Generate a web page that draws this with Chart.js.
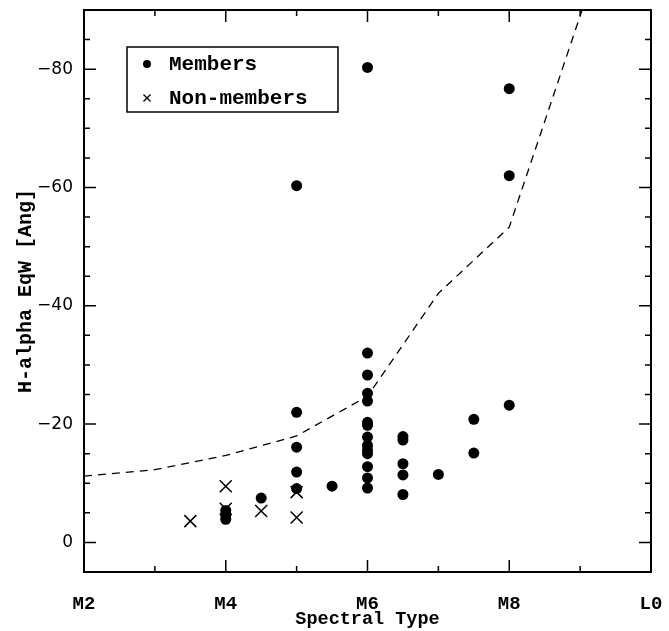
<!DOCTYPE html>
<html lang="en">
<head>
  <meta charset="UTF-8" />
  <title>H-alpha EqW vs Spectral Type</title>
  <style>
    html, body { margin: 0; padding: 0; background: #fff; }
  </style>
</head>
<body>
  <canvas id="myChart" width="669" height="631"></canvas>
  <script src="https://cdn.jsdelivr.net/npm/chart.js@4.4.1/dist/chart.umd.min.js"></script>
  <script>
    // spectral type: M2 = 2 ... L0 = 10
    const memberX = [4, 4, 4, 4.5, 5, 5, 5, 5, 5, 5.5,
      6, 6, 6, 6, 6, 6, 6, 6, 6, 6, 6, 6, 6, 6,
      6.5, 6.5, 6.5, 6.5, 6.5, 7, 7.5, 7.5, 8, 8, 8];
    const memberY = [-5.4, -4.6, -3.9, -7.5, -60.3, -22.0, -16.1, -11.9, -9.1, -9.5,
      -80.3, -32.0, -28.3, -25.2, -23.9, -20.3, -19.8, -17.8, -16.4, -15.6, -15.0, -12.8, -10.9, -9.2,
      -17.9, -17.3, -13.3, -11.4, -8.1, -11.5, -20.8, -15.1, -76.7, -62.0, -23.2];

    const nonX = [3.5, 4, 4, 4.5, 5, 5];
    const nonY = [-3.6, -9.5, -5.7, -5.3, -8.5, -4.2];

    const limitX = [2, 3, 4, 5, 6, 7, 8, 9, 10];
    const limitY = [-11.2, -12.3, -14.7, -18.0, -24.7, -42.1, -53.3, -89, -125];

    const xTicks = [2, 4, 6, 8, 10];
    const xTickLabels = ["M2", "M4", "M6", "M8", "L0"];
    const xMinor = [3, 5, 7, 9];
    const yTicks = [0, -20, -40, -60, -80];
    const yMinor = [-5, -10, -15, -25, -30, -35, -45, -50, -55, -65, -70, -75, -85];

    const pts = (xs, ys) => xs.map((x, i) => ({ x: x, y: ys[i] }));
    const serif = "'Liberation Mono', 'Courier New', monospace";
    const sans = "'DejaVu Sans', sans-serif";

    // box round the plot with inward ticks on all four sides
    const frame = {
      id: "frame",
      afterDraw(chart) {
        const ctx = chart.ctx;
        const a = chart.chartArea;
        const xs = chart.scales.x, ys = chart.scales.y;
        ctx.save();
        ctx.strokeStyle = "#000";
        ctx.lineWidth = 2;
        ctx.strokeRect(a.left, a.top, a.right - a.left, a.bottom - a.top);
        ctx.lineWidth = 1.5;
        ctx.beginPath();
        const xt = (vals, len) => vals.forEach(v => {
          const p = xs.getPixelForValue(v);
          ctx.moveTo(p, a.bottom); ctx.lineTo(p, a.bottom - len);
          ctx.moveTo(p, a.top); ctx.lineTo(p, a.top + len);
        });
        const yt = (vals, len) => vals.forEach(v => {
          const p = ys.getPixelForValue(v);
          ctx.moveTo(a.left, p); ctx.lineTo(a.left + len, p);
          ctx.moveTo(a.right, p); ctx.lineTo(a.right - len, p);
        });
        xt(xTicks, 12); xt(xMinor, 6);
        yt(yTicks, 12); yt(yMinor, 6);
        ctx.stroke();
        ctx.restore();
      }
    };

    const keyBox = {
      id: "keyBox",
      afterDraw(chart) {
        const ctx = chart.ctx;
        const a = chart.chartArea;
        const x0 = a.left + 43, y0 = a.top + 37, w = 211, h = 65;
        ctx.save();
        ctx.strokeStyle = "#000";
        ctx.fillStyle = "#000";
        ctx.lineWidth = 1.5;
        ctx.strokeRect(x0, y0, w, h);
        ctx.font = "bold 21px " + serif;
        ctx.textBaseline = "middle";
        ctx.textAlign = "left";
        const items = [chart.data.datasets[0], chart.data.datasets[1]];
        items.forEach((ds, i) => {
          const cy = y0 + 17 + i * 34;
          ctx.lineWidth = 1.3;
          Chart.helpers.drawPoint(ctx, {
            pointStyle: ds.pointStyle,
            radius: i === 0 ? 4 : 5,
            borderWidth: i === 0 ? 0 : 1.3,
            rotation: 0
          }, x0 + 20, cy);
          ctx.fillText(ds.label, x0 + 42, cy + 1);
        });
        ctx.restore();
      }
    };

    new Chart(document.getElementById("myChart"), {
      type: "scatter",
      data: {
        datasets: [
          {
            label: "Members",
            data: pts(memberX, memberY),
            pointStyle: "circle",
            pointRadius: 5.5,
            pointBackgroundColor: "#000",
            pointBorderWidth: 0
          },
          {
            label: "Non-members",
            data: pts(nonX, nonY),
            pointStyle: "crossRot",
            pointRadius: 8.5,
            pointBorderColor: "#000",
            pointBorderWidth: 1.5
          },
          {
            label: "limit",
            data: pts(limitX, limitY),
            showLine: true,
            pointRadius: 0,
            borderColor: "#000",
            borderWidth: 1.3,
            borderDash: [8, 6],
            fill: false
          }
        ]
      },
      options: {
        responsive: false,
        devicePixelRatio: 1,
        animation: false,
        layout: { padding: { top: 8, right: 18, left: 0, bottom: 0 } },
        plugins: {
          legend: { display: false },
          tooltip: { enabled: false }
        },
        scales: {
          x: {
            type: "linear",
            min: 2,
            max: 10,
            afterBuildTicks: (s) => { s.ticks = xTicks.map(v => ({ value: v })); },
            afterFit: (s) => { s.height = 59; s.paddingLeft = 0; s.paddingRight = 0; },
            grid: { display: false, drawTicks: false },
            border: { display: false },
            ticks: {
              autoSkip: false,
              maxRotation: 0,
              padding: 21,
              color: "#000",
              font: { family: serif, size: 19, weight: "bold" },
              callback: (v) => xTickLabels[xTicks.indexOf(v)]
            },
            title: {
              display: true,
              text: "Spectral Type",
              color: "#000",
              font: { family: serif, size: 18.5, weight: "bold" },
              padding: { top: 0, bottom: 1 }
            }
          },
          y: {
            type: "linear",
            min: -90,
            max: 5,
            reverse: true,
            afterBuildTicks: (s) => { s.ticks = yTicks.map(v => ({ value: v })); },
            afterFit: (s) => { s.width = 84; s.paddingTop = 0; s.paddingBottom = 0; },
            grid: { display: false, drawTicks: false },
            border: { display: false },
            ticks: {
              autoSkip: false,
              padding: 11,
              color: "#000",
              font: { family: sans, size: 17 },
              callback: (v) => (v < 0 ? "\u2212" + Math.abs(v) : String(v))
            },
            title: {
              display: true,
              text: "H-alpha EqW [Ang]",
              color: "#000",
              font: { family: serif, size: 20, weight: "bold" },
              padding: { top: 14, bottom: 0 }
            }
          }
        }
      },
      plugins: [frame, keyBox]
    });
  </script>
</body>
</html>
